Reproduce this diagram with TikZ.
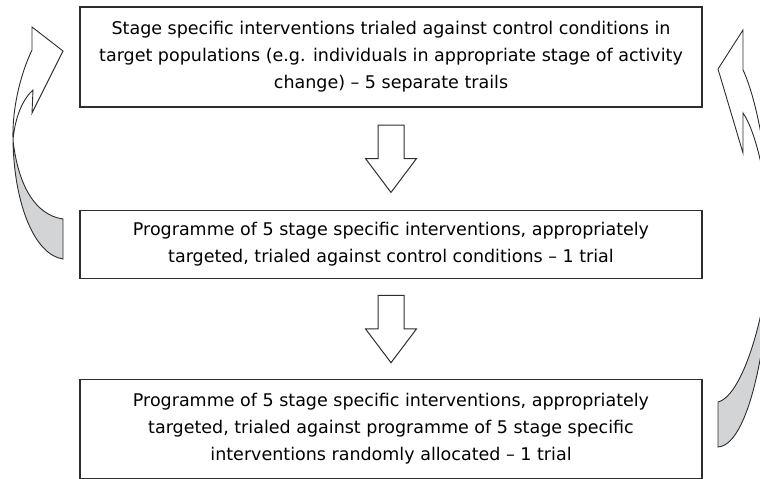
\documentclass[tikz,border=0pt]{standalone}
\usepackage{fontspec}
\setmainfont{DejaVu Sans}
\usetikzlibrary{positioning,shapes.arrows,calc}
\definecolor{linegray}{RGB}{45,45,45}
\definecolor{ribbongray}{RGB}{211,212,214}

\begin{document}
\begin{tikzpicture}[x=1pt, y=-1pt,
      stagebox/.style={rectangle, draw=linegray, line width=1.3pt,
                   minimum width=622pt, align=center, inner sep=0pt,
                   font=\fontsize{17.5}{27}\selectfont},
      downarr/.style={single arrow, draw=linegray, line width=1pt, fill=white,
                   rotate=-90, inner xsep=24.5pt, inner ysep=12.5pt,
                   single arrow head extend=12.5pt, single arrow tip angle=74},
      ribbon/.style={draw=linegray, line width=0.9pt, line join=miter}]
      \useasboundingbox (0,0) rectangle (760,479);
      \node[stagebox, minimum height=100pt] (trials) at (391,57)
        {Stage specific interventions trialed against control conditions in\\
         target populations (e.g. individuals in appropriate stage of activity\\
         change) -- 5 separate trails};
      \node[stagebox, minimum height=68pt, below=102pt of trials] (control)
        {Programme of 5 stage specific interventions, appropriately\\
         targeted, trialed against control conditions -- 1 trial};
      \node[stagebox, minimum height=99pt, below=100pt of control] (random)
        {Programme of 5 stage specific interventions, appropriately\\
         targeted, trialed against programme of 5 stage specific\\
         interventions randomly allocated -- 1 trial};
      % block arrows between the stages
      \node[downarr, anchor=tail] (step1) at ([yshift=-17pt]trials.south) {};
      \node[downarr, anchor=tail] (step2) at ([yshift=-16pt]control.south) {};
      % left loop arrow
      \draw[ribbon, fill=ribbongray] (13,140) .. controls (14,205) and (35,255) .. (63,259)
        -- (63,219) .. controls (35,215) and (18,185) .. (13,140);
      \draw[ribbon, fill=white] (32,50) .. controls (20,75) and (12,110) .. (13,140)
        .. controls (15,118) and (22,100) .. (33,90) -- (32,113) -- (63,51) -- (32,27) -- cycle;
      % right loop arrow, runs off the page
      \begin{scope}
        \clip (0,0) rectangle (760,479);
        \draw[ribbon, fill=ribbongray] (770,238) .. controls (770,300) and (745,395) .. (718,402)
          -- (718,447) .. controls (752,445) and (772,320) .. (770,238);
        \draw[ribbon, fill=white] (743,70) .. controls (755,95) and (770,160) .. (770,238)
          .. controls (768,180) and (755,130) .. (743,113) -- (743,153) -- (718,69) -- (743,30) -- cycle;
      \end{scope}
    \end{tikzpicture}
\end{document}
